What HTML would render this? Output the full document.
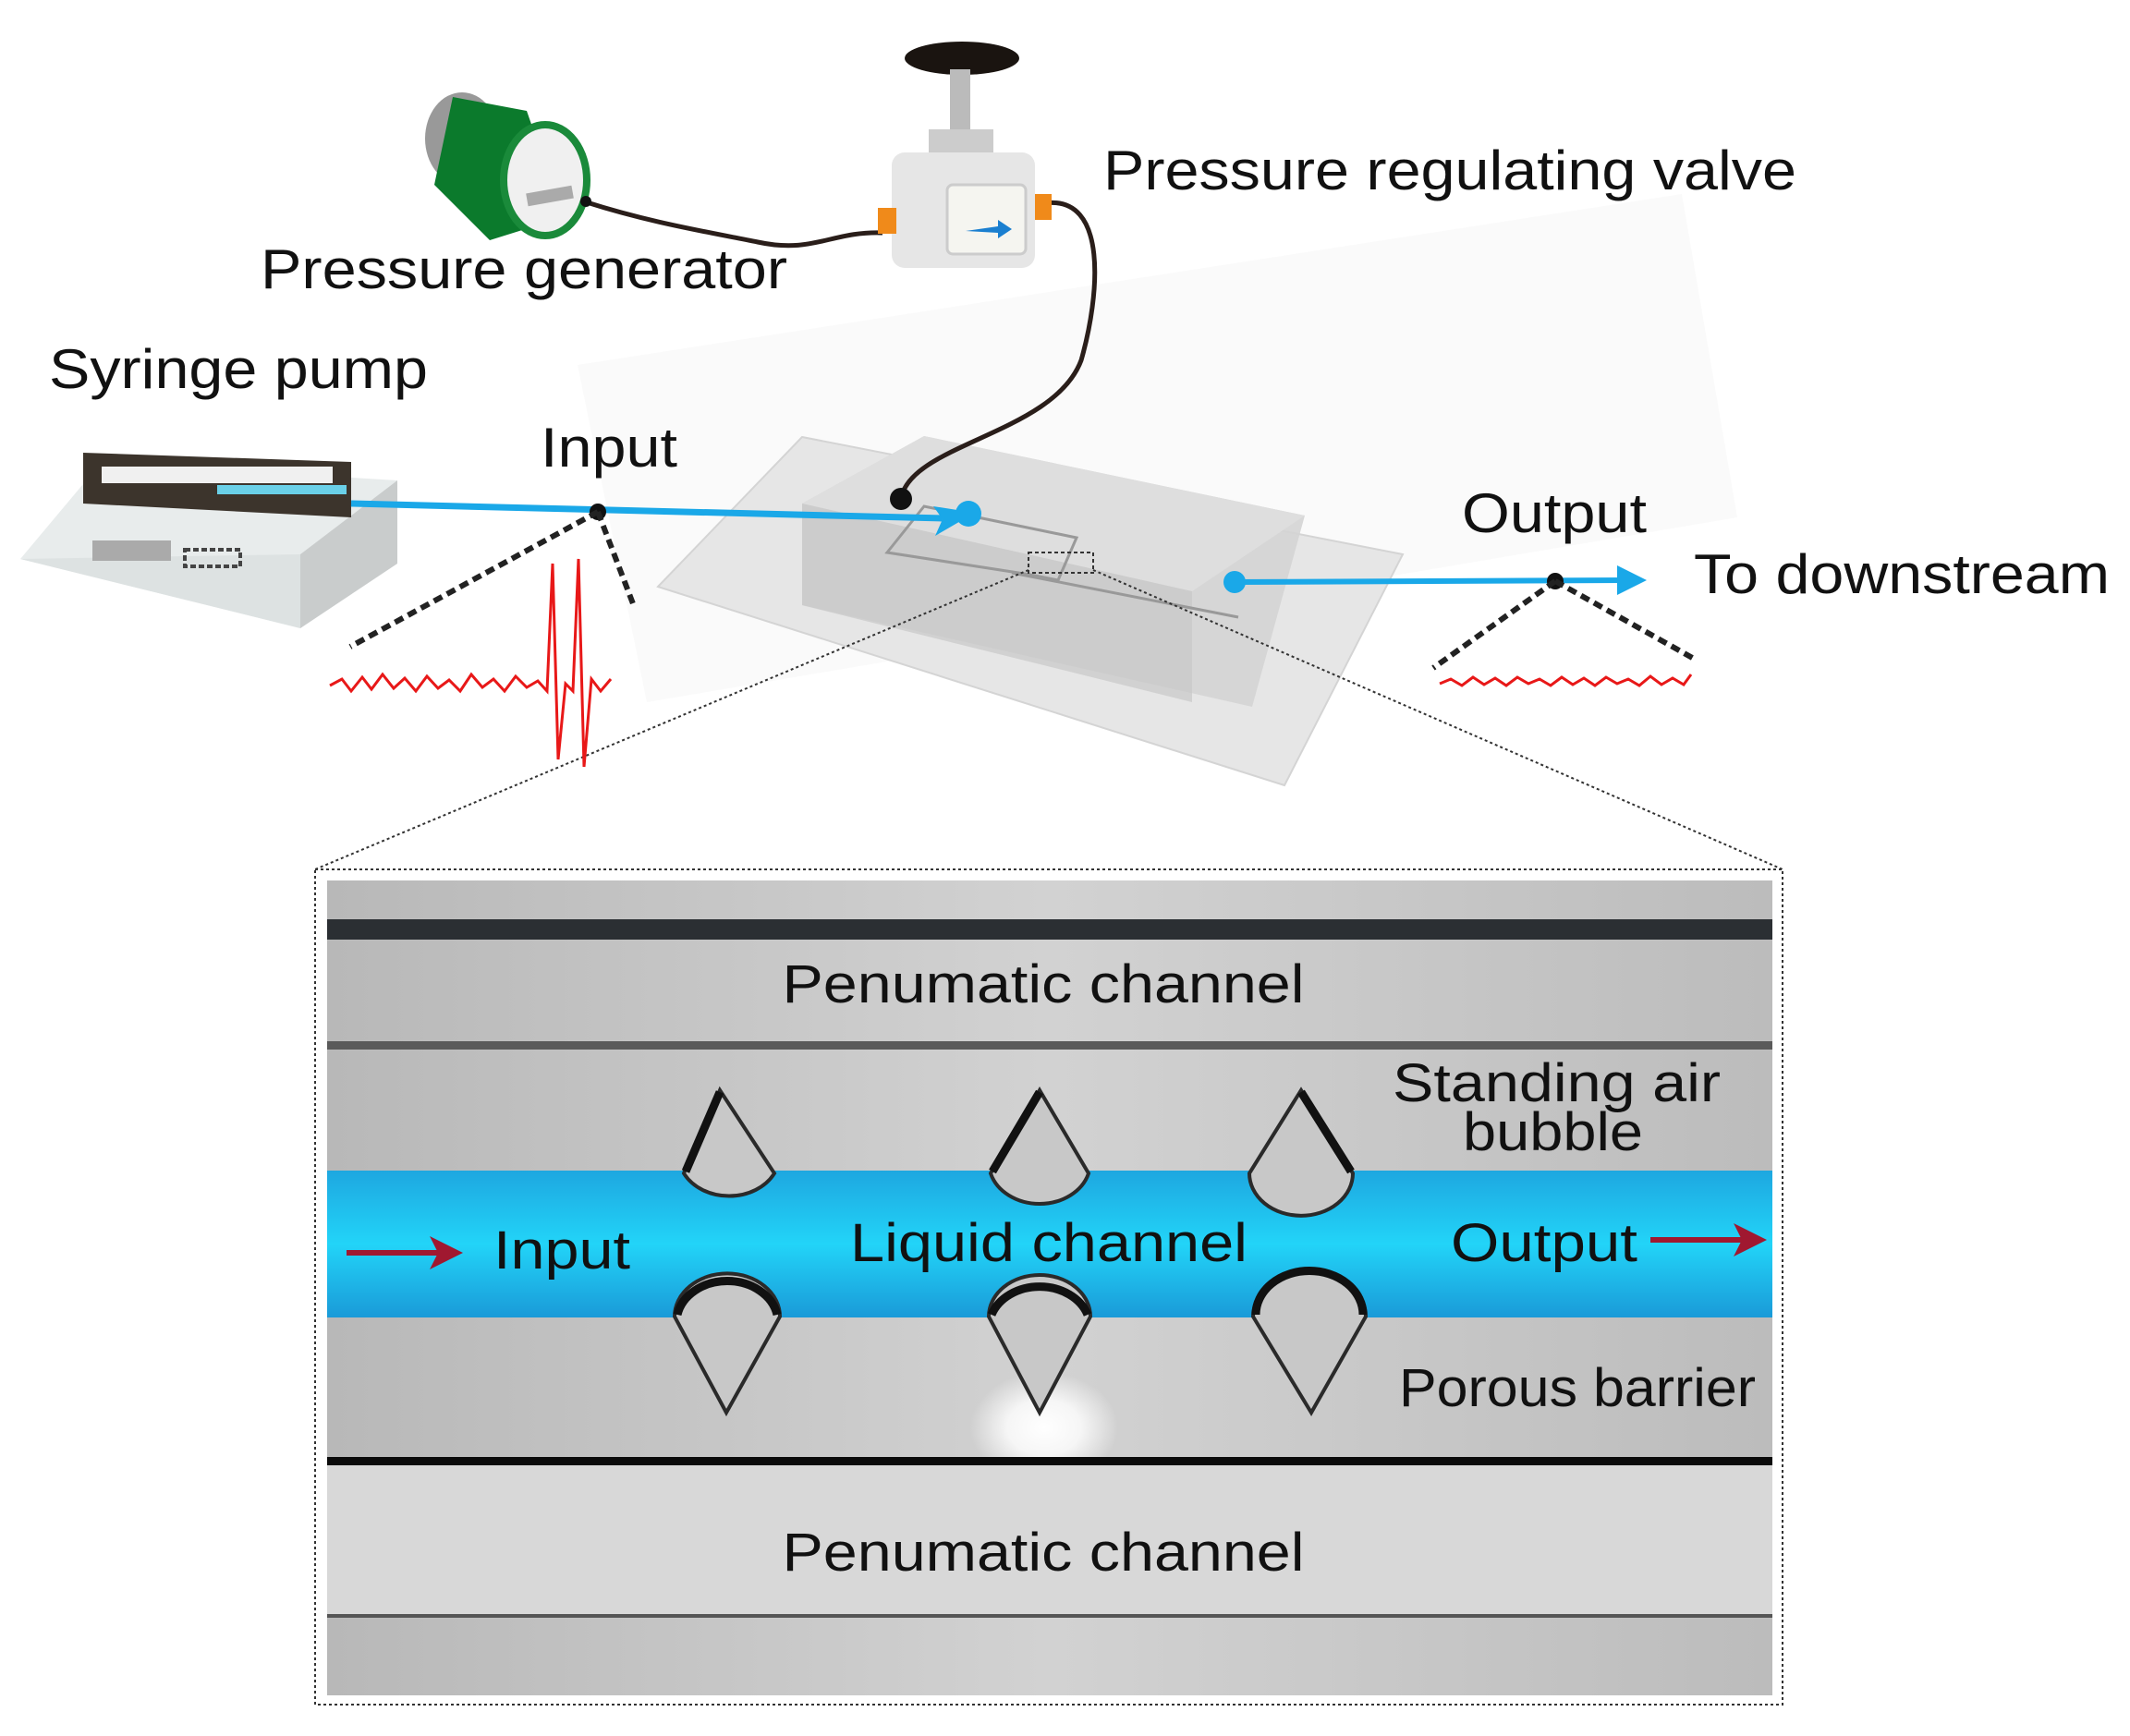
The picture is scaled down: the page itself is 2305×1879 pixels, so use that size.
<!DOCTYPE html>
<html><head><meta charset="utf-8"><style>html,body{margin:0;padding:0;background:#fff}svg{display:block}text{font-family:"Liberation Sans",sans-serif;fill:#111}</style></head>
<body>
<svg width="2305" height="1879" viewBox="0 0 2305 1879" xmlns="http://www.w3.org/2000/svg">
<defs>
<linearGradient id="pan" x1="0" y1="0" x2="1" y2="0"><stop offset="0" stop-color="#b8b8b8"/><stop offset="0.5" stop-color="#d2d2d2"/><stop offset="1" stop-color="#bcbcbc"/></linearGradient>
<linearGradient id="blue" x1="0" y1="0" x2="0" y2="1"><stop offset="0" stop-color="#1ea7e0"/><stop offset="0.5" stop-color="#22d4f8"/><stop offset="1" stop-color="#1a9ad8"/></linearGradient>
<radialGradient id="glow" cx="0.5" cy="0.5" r="0.5"><stop offset="0" stop-color="#fff"/><stop offset="0.5" stop-color="#fff" stop-opacity="0.8"/><stop offset="1" stop-color="#fff" stop-opacity="0"/></radialGradient>
<marker id="ra" markerWidth="6" markerHeight="6" refX="5" refY="3" orient="auto"><path d="M0,0 L6,3 L0,6 L1.5,3z" fill="#a01830"/></marker>
</defs>

<polygon points="625,395 1820,210 1880,560 700,760" fill="#fafafa"/>

<polygon points="712,635 868,473 1518,600 1390,850" fill="#e6e6e6" stroke="#d4d4d4" stroke-width="2"/>
<polygon points="868,545 1000,472 1412,558 1355,765 868,655" fill="#d4d4d4" opacity="0.9"/>
<polygon points="868,545 1000,472 1412,558 1290,640" fill="#dedede"/>
<polygon points="868,655 1290,760 1290,640 868,545" fill="#c8c8c8" opacity="0.7"/>
<path d="M960,598 L1000,548 L1165,582 L1145,628 L1115,622 Z" fill="none" stroke="#999" stroke-width="3"/>
<line x1="1095" y1="620" x2="1340" y2="668" stroke="#999" stroke-width="3"/>
<rect x="1113" y="598" width="70" height="22" fill="none" stroke="#333" stroke-width="2" stroke-dasharray="4,3"/>

<line x1="1113" y1="617" x2="341" y2="941" stroke="#333" stroke-width="2" stroke-dasharray="3,3"/>
<line x1="1183" y1="617" x2="1929" y2="941" stroke="#333" stroke-width="2" stroke-dasharray="3,3"/>

<path d="M632,218 C700,240 760,250 820,262 C880,275 900,250 955,252" fill="none" stroke="#2a1e1a" stroke-width="5"/>
<path d="M1130,220 C1200,210 1190,320 1170,390 C1140,470 985,480 975,540" fill="none" stroke="#2a1e1a" stroke-width="5"/>
<circle cx="975" cy="540" r="12" fill="#111"/>

<ellipse cx="500" cy="150" rx="40" ry="50" fill="#999"/>
<path d="M490,105 L570,120 L610,235 L530,260 L470,200 Z" fill="#0b7a2c"/>
<ellipse cx="590" cy="195" rx="45" ry="60" fill="#f0f0f0" stroke="#1a8a3a" stroke-width="8"/>
<rect x="570" y="205" width="50" height="14" fill="#aaa" transform="rotate(-10 595 212)"/>
<circle cx="634" cy="218" r="6" fill="#111"/>

<ellipse cx="1041" cy="63" rx="62" ry="18" fill="#1a1410"/>
<rect x="1028" y="75" width="22" height="80" fill="#bbb"/>
<rect x="1005" y="140" width="70" height="35" fill="#ccc"/>
<rect x="965" y="165" width="155" height="125" rx="14" fill="#e6e6e6"/>
<rect x="1025" y="200" width="85" height="75" rx="6" fill="#f5f5f0" stroke="#ccc" stroke-width="3"/>
<path d="M1045,250 L1080,245 L1080,238 L1095,248 L1080,258 L1080,252 Z" fill="#1a7fd0"/>
<rect x="950" y="225" width="20" height="28" fill="#f08a1a"/>
<rect x="1120" y="210" width="18" height="28" fill="#f08a1a"/>

<polygon points="22,605 110,500 430,520 420,610 325,680" fill="#e8ecec"/>
<polygon points="325,600 430,520 430,610 325,680" fill="#c9cccc"/>
<polygon points="22,605 325,600 325,680" fill="#dde2e2"/>
<polygon points="90,490 380,500 380,560 90,545" fill="#3c342c"/>
<rect x="110" y="505" width="250" height="18" fill="#f0f0f0"/>
<rect x="235" y="525" width="140" height="10" fill="#6ad0e8"/>
<rect x="100" y="585" width="85" height="22" fill="#aaa"/>
<rect x="200" y="595" width="60" height="18" fill="none" stroke="#444" stroke-width="4" stroke-dasharray="6,3"/>

<line x1="380" y1="545" x2="1020" y2="561" stroke="#1aa8e8" stroke-width="7"/>
<path d="M1010,548 L1055,555 L1012,580 L1020,562 Z" fill="#1aa8e8"/>
<circle cx="1048" cy="556" r="14" fill="#1aa8e8"/>
<circle cx="647" cy="554" r="9" fill="#111"/>
<line x1="647" y1="554" x2="379" y2="700" stroke="#222" stroke-width="6" stroke-dasharray="10,6"/>
<line x1="647" y1="554" x2="686" y2="656" stroke="#222" stroke-width="6" stroke-dasharray="10,6"/>
<polyline points="357,742 370,735 380,748 392,733 402,746 414,730 426,745 438,734 450,748 462,732 474,745 486,736 498,748 510,730 522,744 534,735 546,748 558,732 570,744 582,737 592,748 598,610 604,822 612,740 620,748 626,605 632,830 640,735 650,748 661,735" fill="none" stroke="#e81818" stroke-width="3"/>

<circle cx="1336" cy="630" r="12" fill="#1aa8e8"/>
<line x1="1336" y1="630" x2="1760" y2="628" stroke="#1aa8e8" stroke-width="6"/>
<path d="M1750,612 L1782,628 L1750,644 Z" fill="#1aa8e8"/>
<circle cx="1683" cy="629" r="9" fill="#111"/>
<line x1="1683" y1="629" x2="1551" y2="723" stroke="#222" stroke-width="6" stroke-dasharray="10,6"/>
<line x1="1683" y1="629" x2="1835" y2="714" stroke="#222" stroke-width="6" stroke-dasharray="10,6"/>
<polyline points="1558,740 1570,735 1582,742 1594,733 1606,741 1618,734 1630,742 1642,733 1654,740 1666,735 1678,742 1690,733 1702,741 1714,734 1726,742 1738,733 1750,740 1762,735 1774,742 1786,732 1798,741 1810,734 1822,741 1830,730" fill="none" stroke="#e81818" stroke-width="3"/>

<text x="1194" y="205" font-size="60" textLength="750" lengthAdjust="spacingAndGlyphs">Pressure regulating valve</text>
<text x="282" y="312" font-size="60" textLength="570" lengthAdjust="spacingAndGlyphs">Pressure generator</text>
<text x="53" y="420" font-size="60" textLength="410" lengthAdjust="spacingAndGlyphs">Syringe pump</text>
<text x="585" y="505" font-size="60" textLength="148" lengthAdjust="spacingAndGlyphs">Input</text>
<text x="1582" y="576" font-size="60" textLength="200" lengthAdjust="spacingAndGlyphs">Output</text>
<text x="1833" y="642" font-size="60" textLength="450" lengthAdjust="spacingAndGlyphs">To downstream</text>

<rect x="341" y="941" width="1588" height="904" fill="#fff" stroke="#333" stroke-width="2" stroke-dasharray="3,3"/>
<rect x="354" y="953" width="1564" height="882" fill="url(#pan)"/>
<rect x="354" y="995" width="1564" height="22" fill="#2b2f33"/>
<rect x="354" y="1127" width="1564" height="9" fill="#5a5a5a"/>
<rect x="354" y="1267" width="1564" height="159" fill="url(#blue)"/>
<ellipse cx="1130" cy="1545" rx="80" ry="60" fill="url(#glow)"/>
<rect x="354" y="1577" width="1564" height="9" fill="#0a0a0a"/>
<rect x="354" y="1586" width="1564" height="163" fill="#d8d8d8"/>
<rect x="354" y="1747" width="1564" height="4" fill="#555"/>

<g fill="#c8c8c8" stroke="#2a2a2a" stroke-width="4">
<path d="M779,1180 L740,1270 A55,45 0 0 0 838,1270 Z"/>
<path d="M1125,1180 L1072,1270 A55,45 0 0 0 1178,1270 Z"/>
<path d="M1408,1180 L1352,1270 A55,45 0 0 0 1464,1270 Z"/>
<path d="M786,1529 L730,1425 A55,45 0 0 1 844,1425 Z"/>
<path d="M1125,1529 L1070,1425 A55,45 0 0 1 1180,1425 Z"/>
<path d="M1419,1529 L1356,1425 A55,45 0 0 1 1478,1425 Z"/>
</g>
<g fill="none" stroke="#111" stroke-width="9">
<path d="M779,1182 L742,1268"/><path d="M1125,1182 L1074,1268"/><path d="M1408,1182 L1462,1268"/>
<path d="M733,1423 A55,45 0 0 1 841,1423"/><path d="M1073,1423 A55,45 0 0 1 1177,1423"/><path d="M1359,1423 A55,45 0 0 1 1475,1423"/>
</g>

<text x="1129" y="1085" font-size="58" text-anchor="middle" textLength="565" lengthAdjust="spacingAndGlyphs">Penumatic channel</text>
<text x="1129" y="1700" font-size="58" text-anchor="middle" textLength="565" lengthAdjust="spacingAndGlyphs">Penumatic channel</text>
<text x="1507" y="1192" font-size="58" textLength="355" lengthAdjust="spacingAndGlyphs">Standing air</text>
<text x="1583" y="1245" font-size="58" textLength="195" lengthAdjust="spacingAndGlyphs">bubble</text>
<text x="1514" y="1522" font-size="58" textLength="386" lengthAdjust="spacingAndGlyphs">Porous barrier</text>
<text x="534" y="1373" font-size="58" textLength="148" lengthAdjust="spacingAndGlyphs">Input</text>
<text x="1135" y="1365" font-size="58" text-anchor="middle" textLength="430" lengthAdjust="spacingAndGlyphs">Liquid channel</text>
<text x="1570" y="1365" font-size="58" textLength="202" lengthAdjust="spacingAndGlyphs">Output</text>
<line x1="375" y1="1356" x2="495" y2="1356" stroke="#a01830" stroke-width="6" marker-end="url(#ra)"/>
<line x1="1786" y1="1342" x2="1906" y2="1342" stroke="#a01830" stroke-width="6" marker-end="url(#ra)"/>
</svg>
</body></html>
